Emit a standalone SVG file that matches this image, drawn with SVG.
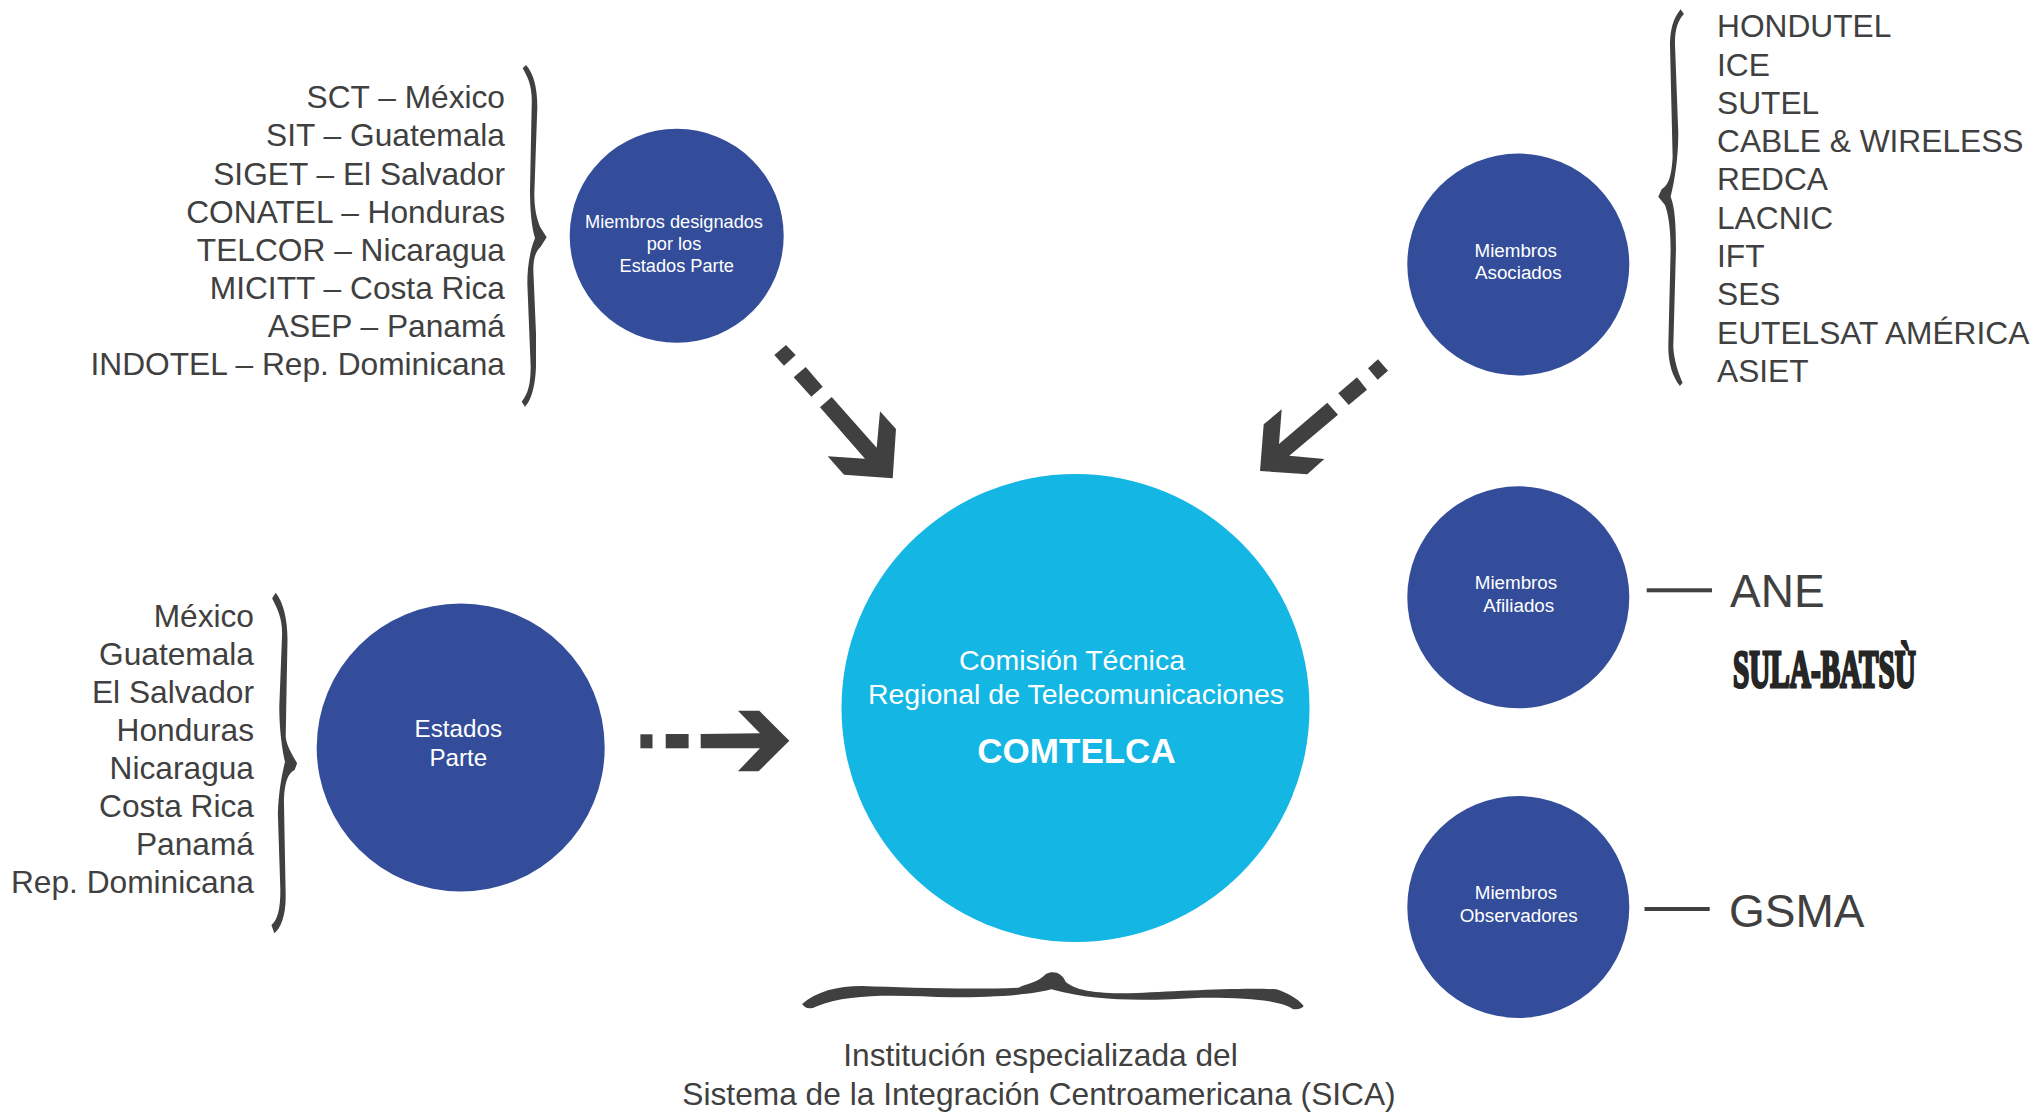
<svg xmlns="http://www.w3.org/2000/svg" width="2040" height="1114" viewBox="0 0 2040 1114">
<style>
text{font-family:"Liberation Sans",Arial,sans-serif;fill:#404040}
.l{font-size:31.7px}
.e{text-anchor:end}
.m{text-anchor:middle}
.w{fill:#fff}
.s{font-size:18.8px}
.d{font-size:18.2px}
.dk{fill:#404040}
.blue{fill:#334d9a}
</style>
<rect width="2040" height="1114" fill="#fff"/>
<g id="connectors" class="dk">
<polygon points="786,345 795.7,355 784,365.7 774.3,355"/>
<polygon points="805.7,367 822.7,386.7 811.3,396.7 793.7,377.3"/>
<polygon points="831.7,397 876.7,447.7 880,411.3 896,429 892.7,478.3 844,474.7 827.7,456.3 865,458.7 820,407.3"/>
<polygon points="1378,359.3 1388,370.7 1377.7,379.7 1368,368.3"/>
<polygon points="1357,377.3 1367,389.7 1348.7,405 1338.3,393.3"/>
<polygon points="1327.3,402.7 1338,414.7 1289.3,455.7 1324.3,459 1307.3,474.3 1260,471 1263.7,424.3 1281.7,409.3 1279,444"/>
<rect x="640.4" y="734.3" width="12.1" height="14"/>
<rect x="665.7" y="734" width="22.9" height="14.3"/>
<polygon points="700.7,734 760,733.3 737.9,710.7 759.3,710.7 789.3,740.7 758.6,771.3 737.9,771.3 760,748.3 700.7,748.3"/>
<rect x="1646.7" y="588.3" width="65.3" height="4"/>
<rect x="1644.5" y="907" width="65.2" height="4"/>
</g>
<g id="brace-designados" class="dk"><path transform="translate(500,50) scale(.3333)" d="M78,45C100,70 112,110 112,170L103,430C103,470 108,500 120,530L140,562L122,590C105,605 100,630 100,660L108,850V950C105,1020 90,1055 75,1070L65,1055C85,1030 92,1000 92,950L82,700C82,650 90,600 105,565C95,530 90,480 90,420L95,170C98,110 85,85 68,55Z"/></g>
<g id="brace-estados" class="dk"><path transform="translate(250,580) scale(.357,.3333)" d="M72,38C95,70 105,120 105,180L100,470C103,500 120,525 132,550L125,570C105,580 97,610 95,660L100,950C100,1010 85,1045 68,1060L60,1035C78,1020 85,985 85,930L78,700C80,640 88,590 98,545C90,510 82,450 82,380L90,160C90,110 75,85 62,55Z"/></g>
<g id="brace-asociados" class="dk"><path transform="translate(1230,0) scale(.3333)" d="M1352,28L1362,42C1345,60 1335,85 1335,130L1345,400C1345,470 1335,540 1322,590C1335,620 1338,680 1338,750L1330,1040C1332,1080 1345,1120 1358,1148L1350,1158C1328,1130 1315,1090 1315,1040L1322,750C1322,700 1318,650 1305,615L1285,590L1295,568C1315,555 1325,530 1328,470L1320,130C1322,85 1330,55 1352,28Z"/></g>
<g id="brace-bottom" class="dk"><path transform="translate(780,950) scale(.357,.3333)" d="M62,162C100,125 160,108 230,108C350,112 520,120 668,113C690,100 720,100 745,72C765,60 790,68 800,95C830,125 900,130 980,130C1100,125 1280,112 1390,118C1420,128 1450,145 1467,168C1460,178 1445,180 1435,176C1400,150 1300,142 1180,143C1050,150 900,160 760,118C700,135 600,142 480,142C350,138 200,125 100,170C85,178 70,176 62,162Z"/></g>
<g id="node-comtelca">
<circle cx="1075.5" cy="708" r="234" fill="#14b6e4"/>
<text class="w m" x="1072" y="670" font-size="28.5">Comisión Técnica</text>
<text class="w m" x="1076" y="704" font-size="28.5">Regional de Telecomunicaciones</text>
<text class="w m" x="1076.5" y="763" font-size="35" font-weight="700">COMTELCA</text>
</g>
<g id="node-designados">
<circle class="blue" cx="676.7" cy="235.8" r="107"/>
<text class="w m d" x="674" y="228">Miembros designados</text>
<text class="w m d" x="674" y="250">por los</text>
<text class="w m d" x="676.7" y="271.7">Estados Parte</text>
</g>
<g id="node-asociados">
<circle class="blue" cx="1518.3" cy="264.5" r="111"/>
<text class="w s" x="1474.5" y="256.7">Miembros</text>
<text class="w s" x="1475" y="279.3">Asociados</text>
</g>
<g id="node-afiliados">
<circle class="blue" cx="1518.3" cy="597.3" r="111"/>
<text class="w m s" x="1516" y="589.3">Miembros</text>
<text class="w m s" x="1518.7" y="611.7">Afiliados</text>
</g>
<g id="node-observadores">
<circle class="blue" cx="1518.3" cy="907" r="111"/>
<text class="w m s" x="1516" y="899">Miembros</text>
<text class="w m s" x="1518.7" y="921.7">Observadores</text>
</g>
<g id="node-estados">
<circle class="blue" cx="460.7" cy="747.5" r="144"/>
<text class="w m" x="458.3" y="736.7" font-size="24.2">Estados</text>
<text class="w m" x="458.3" y="766" font-size="24.2">Parte</text>
</g>
<g id="list-designados">
<text class="l e" x="505" y="108.3">SCT – México</text>
<text class="l e" x="505" y="146.4">SIT – Guatemala</text>
<text class="l e" x="505" y="184.5">SIGET – El Salvador</text>
<text class="l e" x="505" y="222.6">CONATEL – Honduras</text>
<text class="l e" x="505" y="260.7">TELCOR – Nicaragua</text>
<text class="l e" x="505" y="298.8">MICITT – Costa Rica</text>
<text class="l e" x="505" y="336.9">ASEP – Panamá</text>
<text class="l e" x="505" y="375">INDOTEL – Rep. Dominicana</text>
</g>
<g id="list-estados">
<text class="l e" x="254" y="626.7">México</text>
<text class="l e" x="254" y="664.8">Guatemala</text>
<text class="l e" x="254" y="702.9">El Salvador</text>
<text class="l e" x="254" y="741">Honduras</text>
<text class="l e" x="254" y="779">Nicaragua</text>
<text class="l e" x="254" y="817.1">Costa Rica</text>
<text class="l e" x="254" y="855.2">Panamá</text>
<text class="l e" x="254" y="893.3">Rep. Dominicana</text>
</g>
<g id="list-asociados">
<text class="l" x="1717" y="37.3">HONDUTEL</text>
<text class="l" x="1717" y="75.6">ICE</text>
<text class="l" x="1717" y="113.9">SUTEL</text>
<text class="l" x="1717" y="152.1">CABLE &amp; WIRELESS</text>
<text class="l" x="1717" y="190.4">REDCA</text>
<text class="l" x="1717" y="228.7">LACNIC</text>
<text class="l" x="1717" y="267">IFT</text>
<text class="l" x="1717" y="305.2">SES</text>
<text class="l" x="1717" y="343.5">EUTELSAT AMÉRICA</text>
<text class="l" x="1717" y="381.7">ASIET</text>
</g>
<g id="label-ane"><text x="1730" y="606.7" font-size="46">ANE</text></g>
<g id="label-sula"><text transform="translate(1733,686.7) scale(.562,1)" style="font-family:'Liberation Serif',serif;fill:#262626;stroke:#262626;stroke-width:3" font-size="52" font-weight="700">SULA-BATSÙ</text></g>
<g id="label-gsma"><text x="1729" y="926.7" font-size="46">GSMA</text></g>
<g id="label-sica">
<text class="m" x="1040.5" y="1065.5" font-size="31.7">Institución especializada del</text>
<text class="m" x="1039" y="1104.5" font-size="31.7">Sistema de la Integración Centroamericana (SICA)</text>
</g>
</svg>
